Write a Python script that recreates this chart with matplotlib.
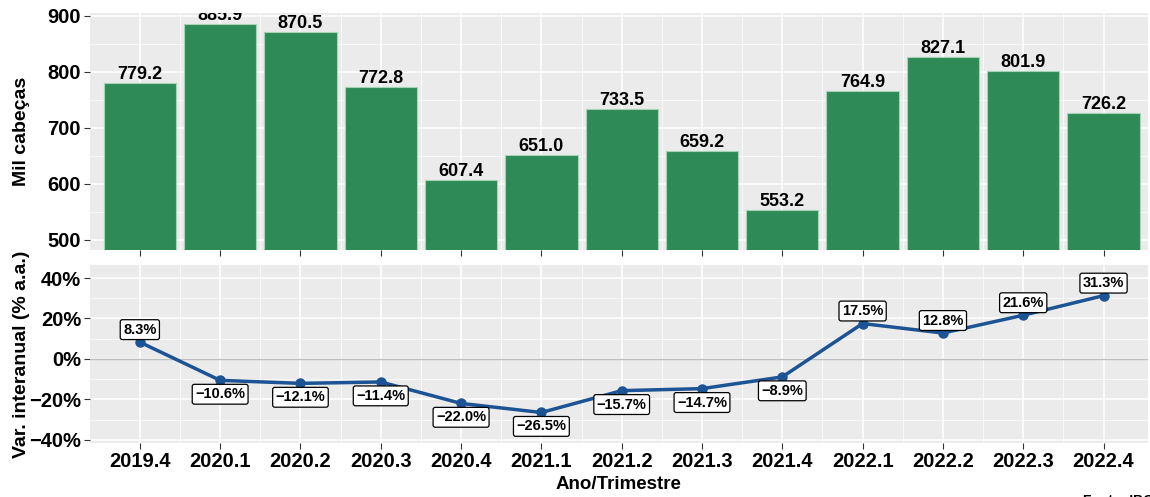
import matplotlib
matplotlib.use("Agg")
import matplotlib.pyplot as plt
import numpy as np

plt.rcParams['font.family'] = ['Liberation Sans', 'DejaVu Sans']
plt.rcParams['font.weight'] = 'bold'

# dados
trimestres = ["2019.4", "2020.1", "2020.2", "2020.3", "2020.4", "2021.1", "2021.2",
              "2021.3", "2021.4", "2022.1", "2022.2", "2022.3", "2022.4"]
cabecas = [779.2, 885.9, 870.5, 772.8, 607.4, 651.0, 733.5, 659.2, 553.2,
           764.9, 827.1, 801.9, 726.2]
var_aa = [8.3, -10.6, -12.1, -11.4, -22.0, -26.5, -15.7, -14.7, -8.9,
          17.5, 12.8, 21.6, 31.3]

x = np.arange(len(trimestres))
bg = '#EBEBEB'


def fmt_num(v, suf=''):
    s = f"{v:.1f}{suf}"
    return s.replace('-', '\u2212')


def estilo(ax):
    ax.set_facecolor(bg)
    for s in ax.spines.values():
        s.set_visible(False)
    ax.set_xticks(x)
    ax.set_xticks(x[:-1] + 0.5, minor=True)
    ax.grid(which='major', color='white', lw=1.1)
    ax.grid(which='minor', color='white', lw=0.5)
    ax.set_axisbelow(True)
    ax.tick_params(which='major', length=4, color='#333333', width=0.8,
                   labelsize=14.5, labelcolor='black', pad=2.5)
    ax.tick_params(which='minor', length=0)
    ax.set_xlim(-0.62, 12.55)


fig = plt.figure(figsize=(11.5, 4.97), dpi=100)
ax1 = fig.add_axes([0.0783, 0.497, 0.9197, 0.477])
ax2 = fig.add_axes([0.0783, 0.109, 0.9197, 0.358])

# painel superior: barras
estilo(ax1)
ax1.bar(x, cabecas, width=0.9, color='#2E8B57', edgecolor='#a7d3b5', lw=0.8)
ax1.set_ylim(482, 905)
ax1.set_yticks([500, 600, 700, 800, 900])
ax1.set_yticks([550, 650, 750, 850], minor=True)
ax1.set_xticklabels([])
for xi, v in zip(x, cabecas):
    ax1.text(xi, v, fmt_num(v), ha='center', va='bottom', fontsize=13,
             fontweight='bold', clip_on=True)
ax1.set_ylabel('Mil cabeças', fontsize=14, fontweight='bold')

# painel inferior: variacao interanual
estilo(ax2)
ax2.axhline(0, color='#BEBEBE', lw=1)
ax2.plot(x, var_aa, color='#1B5394', lw=2.5, marker='o', ms=6.5, zorder=3)
ax2.set_ylim(-41.5, 46.5)
ax2.set_yticks([-40, -20, 0, 20, 40])
ax2.set_yticks([-30, -10, 10, 30], minor=True)
ax2.set_yticklabels([fmt_num(t, '%').replace('.0', '') for t in [-40, -20, 0, 20, 40]])
ax2.set_xticklabels(trimestres)
for xi, v in zip(x, var_aa):
    dy = 9 if v > 0 else -10
    ax2.annotate(fmt_num(v, '%'), (xi, v), xytext=(0, dy), textcoords='offset points',
                 ha='center', va='center', fontsize=10.5, fontweight='bold', zorder=4,
                 bbox=dict(boxstyle='round,pad=0.2,rounding_size=0.15', fc='white',
                           ec='black', lw=0.9))
ax2.set_ylabel('Var. interanual (% a.a.)', fontsize=14, fontweight='bold')
# alinhar os dois titulos do eixo y
ax1.yaxis.set_label_coords(-0.057, 0.5)
ax2.yaxis.set_label_coords(-0.057, 0.5)
ax2.set_xlabel('Ano/Trimestre', fontsize=13.5, fontweight='bold', labelpad=4)

fig.text(0.942, 0.006, 'Fonte: IBGE', ha='left', va='top', fontsize=10,
         fontweight='bold')

fig.savefig('out.png', dpi=100)
